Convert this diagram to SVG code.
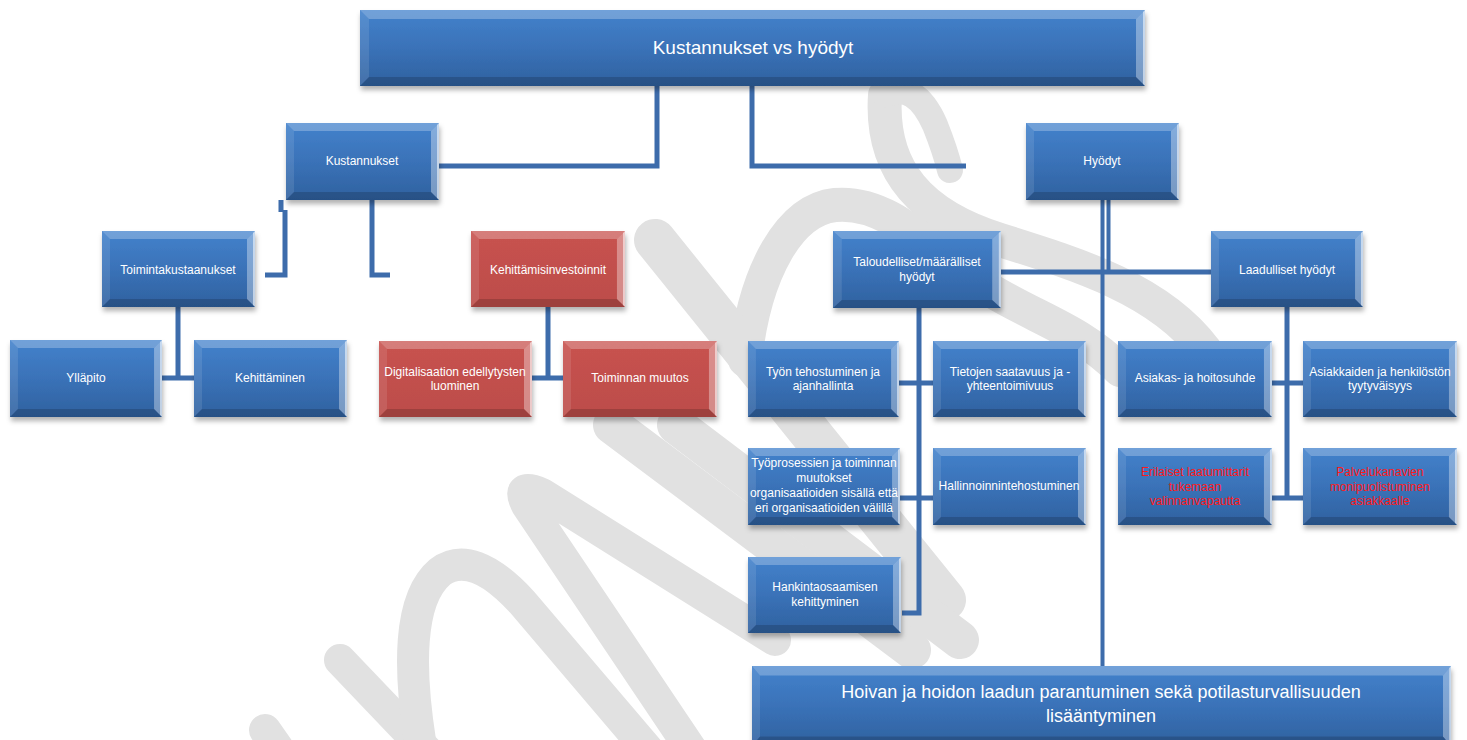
<svg xmlns="http://www.w3.org/2000/svg" xmlns:xlink="http://www.w3.org/1999/xlink" width="1467" height="740" viewBox="0 0 1467 740">
<style>
.bx{filter:url(#sh)}
.blue{fill:url(#gb)}
.red{fill:url(#gr)}
.t{font-family:"Liberation Sans",Arial,sans-serif;font-size:12px;fill:#ffffff;text-anchor:middle;dominant-baseline:central}
.tr{fill:#ff1a1a}
.big{font-size:19px}
.bot{font-size:18px}
.con{fill:none;stroke:#3d6cab;stroke-width:5}
.thin{stroke-width:4}
.wm{fill:none;stroke:#e1e1e1;stroke-linecap:round;stroke-linejoin:round}
</style>
<defs>
<linearGradient id="gb" x1="0" y1="0" x2="0" y2="1">
<stop offset="0" stop-color="#4382cc"/>
<stop offset="0.5" stop-color="#3a72b8"/>
<stop offset="1" stop-color="#2f619f"/>
</linearGradient>
<linearGradient id="gr" x1="0" y1="0" x2="0" y2="1">
<stop offset="0" stop-color="#c8524f"/>
<stop offset="1" stop-color="#bc4d4a"/>
</linearGradient>
<filter id="sh" x="-10%" y="-10%" width="125%" height="135%">
<feDropShadow dx="1" dy="4" stdDeviation="2.5" flood-color="#000" flood-opacity="0.3"/>
</filter>
<symbol id="bev" viewBox="0 0 153 77" preserveAspectRatio="none">
<polygon points="0,0 153,0 145,8 8,8" fill="#fff" fill-opacity="0.25"/>
<polygon points="0,0 8,8 8,69 0,77" fill="#fff" fill-opacity="0.1"/>
<polygon points="153,0 153,77 145,69 145,8" fill="#fff" fill-opacity="0.35"/>
<polygon points="151,2 153,0 153,77 151,75" fill="#fff" fill-opacity="0.55"/>
<polygon points="0,77 153,77 145,69 8,69" fill="#000" fill-opacity="0.16"/>
</symbol>
<symbol id="bevw" viewBox="0 0 785 76" preserveAspectRatio="none">
<polygon points="0,0 785,0 776,9 9,9" fill="#fff" fill-opacity="0.25"/>
<polygon points="0,0 9,9 9,67 0,76" fill="#fff" fill-opacity="0.1"/>
<polygon points="785,0 785,76 776,67 776,9" fill="#fff" fill-opacity="0.35"/>
<polygon points="783,2 785,0 785,76 783,74" fill="#fff" fill-opacity="0.55"/>
<polygon points="0,76 785,76 776,67 9,67" fill="#000" fill-opacity="0.16"/>
</symbol>
</defs>
<rect width="1467" height="740" fill="#ffffff"/>
<g id="watermark">
<path class="wm" stroke-width="34" d="M885,95 C880,170 920,215 1000,240 C1080,265 1160,290 1205,350"/>
<path class="wm" stroke-width="26" d="M885,95 Q915,80 935,125 Q945,150 950,170"/>
<path class="wm" stroke-width="34" d="M745,360 C755,270 790,210 835,205 C890,200 930,250 990,290 C1040,320 1080,330 1120,370"/>
<path class="wm" stroke-width="42" d="M655,240 L945,600"/>
<path class="wm" stroke-width="38" d="M612,425 L912,650"/>
<path class="wm" stroke-width="38" d="M676,425 L960,640"/>
<path class="wm" stroke-width="32" d="M340,660 L445,770"/>
<path class="wm" stroke-width="32" d="M425,770 Q395,610 440,572 Q472,548 522,602 L665,770"/>
<path class="wm" stroke-width="32" d="M705,770 L527,505 Q515,482 542,494 L775,640"/>
<path class="wm" stroke-width="32" d="M265,730 L300,780"/>
</g>
<g id="connectors">
<path class="con" d="M657,86 V166 H438"/>
<path class="con" d="M752,86 V166 H966"/>
<path class="con" d="M281,200 V212 M285,210 V275 H265"/>
<path class="con" d="M372,200 V275 H390"/>
<path class="con" d="M178,307 V378 M162,378 H194"/>
<path class="con" d="M548,307 V378 M532,378 H563"/>
<path class="con thin" d="M1102.5,200 V666"/>
<path class="con thin" d="M1108.5,200 V270"/>
<path class="con" d="M1001,272 H1211"/>
<path class="con" d="M919,308 V613 H902 M899,383 H933 M900,498 H933"/>
<path class="con" d="M1287,307 V498 M1272,383 H1303 M1272,498 H1303"/>
</g>
<g id="n-top"><rect class="bx blue" x="360" y="10" width="785" height="76"/><use xlink:href="#bevw" x="360" y="10" width="785" height="76"/><text class="t big" x="753" y="47">Kustannukset vs hyödyt</text></g>
<g id="n-kustannukset"><rect class="bx blue" x="286" y="123" width="153" height="77"/><use xlink:href="#bev" x="286" y="123" width="153" height="77"/><text class="t" x="362" y="161">Kustannukset</text></g>
<g id="n-hyodyt"><rect class="bx blue" x="1026" y="123" width="153" height="77"/><use xlink:href="#bev" x="1026" y="123" width="153" height="77"/><text class="t" x="1102" y="161">Hyödyt</text></g>
<g id="n-toiminta"><rect class="bx blue" x="102" y="231" width="153" height="76"/><use xlink:href="#bev" x="102" y="231" width="153" height="76"/><text class="t" x="178" y="270">Toimintakustaanukset</text></g>
<g id="n-yllapito"><rect class="bx blue" x="10" y="340" width="152" height="77"/><use xlink:href="#bev" x="10" y="340" width="152" height="77"/><text class="t" x="86" y="378">Ylläpito</text></g>
<g id="n-kehittaminen"><rect class="bx blue" x="194" y="340" width="153" height="77"/><use xlink:href="#bev" x="194" y="340" width="153" height="77"/><text class="t" x="270" y="378">Kehittäminen</text></g>
<g id="n-kehinv"><rect class="bx red" x="471" y="231" width="154" height="76"/><use xlink:href="#bev" x="471" y="231" width="154" height="76"/><text class="t" x="548" y="270">Kehittämisinvestoinnit</text></g>
<g id="n-digi"><rect class="bx red" x="379" y="341" width="153" height="76"/><use xlink:href="#bev" x="379" y="341" width="153" height="76"/><text class="t" x="455" y="372">Digitalisaation edellytysten</text><text class="t" x="455" y="386">luominen</text></g>
<g id="n-toimmuutos"><rect class="bx red" x="563" y="341" width="154" height="76"/><use xlink:href="#bev" x="563" y="341" width="154" height="76"/><text class="t" x="640" y="378">Toiminnan muutos</text></g>
<g id="n-talous"><rect class="bx blue" x="833" y="231" width="168" height="77"/><use xlink:href="#bev" x="833" y="231" width="168" height="77"/><text class="t" x="917" y="262">Taloudelliset/määrälliset</text><text class="t" x="917" y="277">hyödyt</text></g>
<g id="n-laatu"><rect class="bx blue" x="1211" y="231" width="152" height="76"/><use xlink:href="#bev" x="1211" y="231" width="152" height="76"/><text class="t" x="1287" y="270">Laadulliset hyödyt</text></g>
<g id="n-tyon"><rect class="bx blue" x="748" y="341" width="151" height="76"/><use xlink:href="#bev" x="748" y="341" width="151" height="76"/><text class="t" x="823" y="372">Työn tehostuminen ja</text><text class="t" x="823" y="386">ajanhallinta</text></g>
<g id="n-tietojen"><rect class="bx blue" x="933" y="341" width="153" height="76"/><use xlink:href="#bev" x="933" y="341" width="153" height="76"/><text class="t" x="1010" y="372">Tietojen saatavuus ja -</text><text class="t" x="1010" y="386">yhteentoimivuus</text></g>
<g id="n-tyoprosessit"><rect class="bx blue" x="748" y="448" width="152" height="77"/><use xlink:href="#bev" x="748" y="448" width="152" height="77"/><text class="t" x="824" y="463">Työprosessien ja toiminnan</text><text class="t" x="824" y="478">muutokset</text><text class="t" x="824" y="493">organisaatioiden sisällä että</text><text class="t" x="824" y="508">eri organisaatioiden välillä</text></g>
<g id="n-hallinnointi"><rect class="bx blue" x="933" y="448" width="153" height="77"/><use xlink:href="#bev" x="933" y="448" width="153" height="77"/><text class="t" x="1009" y="486">Hallinnoinnintehostuminen</text></g>
<g id="n-hankinta"><rect class="bx blue" x="748" y="557" width="153" height="76"/><use xlink:href="#bev" x="748" y="557" width="153" height="76"/><text class="t" x="825" y="587">Hankintaosaamisen</text><text class="t" x="825" y="602">kehittyminen</text></g>
<g id="n-asiakas"><rect class="bx blue" x="1118" y="341" width="154" height="76"/><use xlink:href="#bev" x="1118" y="341" width="154" height="76"/><text class="t" x="1195" y="378">Asiakas- ja hoitosuhde</text></g>
<g id="n-tyytyvaisyys"><rect class="bx blue" x="1303" y="341" width="154" height="76"/><use xlink:href="#bev" x="1303" y="341" width="154" height="76"/><text class="t" x="1380" y="372">Asiakkaiden ja henkilöstön</text><text class="t" x="1380" y="386">tyytyväisyys</text></g>
<g id="n-laatumittarit"><rect class="bx blue" x="1118" y="448" width="154" height="77"/><use xlink:href="#bev" x="1118" y="448" width="154" height="77"/><text class="t tr" x="1195" y="472">Erilaiset laatumittarit</text><text class="t tr" x="1195" y="487">tukemaan</text><text class="t tr" x="1195" y="501">valinnanvapautta</text></g>
<g id="n-palvelukanavat"><rect class="bx blue" x="1303" y="448" width="154" height="77"/><use xlink:href="#bev" x="1303" y="448" width="154" height="77"/><text class="t tr" x="1380" y="472">Palvelukanavien</text><text class="t tr" x="1380" y="487">monipuolistuminen</text><text class="t tr" x="1380" y="501">asiakkaalle</text></g>
<g id="n-bottom"><rect class="bx blue" x="752" y="666" width="699" height="80"/><use xlink:href="#bevw" x="752" y="666" width="699" height="80"/><text class="t bot" x="1101" y="692">Hoivan ja hoidon laadun parantuminen sekä potilasturvallisuuden</text><text class="t bot" x="1101" y="716">lisääntyminen</text></g>
</svg>
